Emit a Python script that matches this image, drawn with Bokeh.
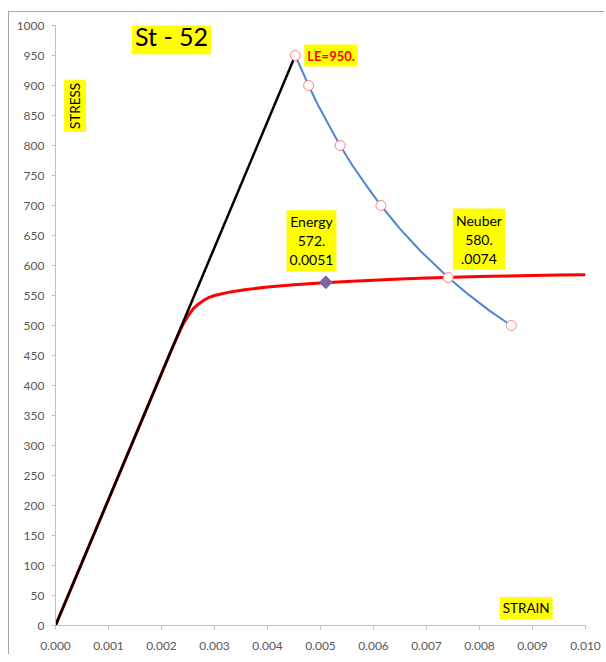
import math
from bokeh.plotting import figure
from bokeh.models import Range1d, FixedTicker, Label, PrintfTickFormatter
from bokeh.embed import file_html
from bokeh.resources import INLINE

# ---------------- data ----------------
x_ticks = [0.000, 0.001, 0.002, 0.003, 0.004, 0.005, 0.006, 0.007, 0.008, 0.009, 0.010]
y_ticks = [0, 50, 100, 150, 200, 250, 300, 350, 400, 450, 500,
           550, 600, 650, 700, 750, 800, 850, 900, 950, 1000]

# linear-elastic line
elastic_strain = [0.0, 0.004524]
elastic_stress = [0, 950]

# cyclic stress-strain curve (red)
curve_strain = [0.0, 0.0022, 0.0024, 0.0025, 0.0026, 0.0027, 0.0028, 0.0029, 0.0030,
                0.0033, 0.0036, 0.0040, 0.0045, 0.0050, 0.0055, 0.0060, 0.0065,
                0.0070, 0.0075, 0.0080, 0.0085, 0.0090, 0.0095, 0.0100]
curve_stress = [0, 462, 501, 516, 528, 536, 542, 547, 550,
                556, 560, 564, 568, 571, 573.5, 575.5, 577.5,
                579, 580.5, 581.5, 582.5, 583.5, 584, 584.5]

# Neuber hyperbola (blue)
neuber_strain = [0.004524, 0.00465, 0.004776, 0.00495, 0.0052, 0.00537, 0.0056, 0.0059,
                 0.00614, 0.0065, 0.0069, 0.00741, 0.0078, 0.0082, 0.0086]
neuber_stress = [950, 925, 900, 868, 827, 800, 767, 729,
                 700, 661, 623, 580, 551, 524, 500]

# Neuber marker points
point_strain = [0.004524, 0.004776, 0.00537, 0.00614, 0.00741, 0.0086]
point_stress = [950, 900, 800, 700, 580, 500]

# Energy method point
energy_strain = [0.0051]
energy_stress = [572]

# texts
title_text = "St - 52"
y_label_text = "STRESS"
x_label_text = "STRAIN"
le_text = "LE=950."
energy_text = "Energy\n572.\n0.0051"
neuber_text = "Neuber\n580.\n.0074"

FONT = "Lato"
TICK_COLOR = "#595959"
AXIS_COLOR = "#BFBFBF"
YELLOW = "#FFFF00"

p = figure(width=596, height=643,
           x_range=Range1d(0, 0.010), y_range=Range1d(0, 1000),
           output_backend="svg", toolbar_location=None,
           min_border_left=46, min_border_right=20,
           min_border_top=13, min_border_bottom=30)
p.styles = {"margin-left": "8px", "margin-top": "11px",
            "border-left": "1px solid #A6A6A6", "border-top": "1px solid #A6A6A6"}
p.outline_line_color = None
p.xgrid.visible = False
p.ygrid.visible = False

p.xaxis.ticker = FixedTicker(ticks=x_ticks)
p.xaxis.formatter = PrintfTickFormatter(format="%.3f")
p.yaxis.ticker = FixedTicker(ticks=y_ticks)
for ax in (p.xaxis, p.yaxis):
    ax.axis_line_color = AXIS_COLOR
    ax.major_tick_line_color = AXIS_COLOR
    ax.minor_tick_line_color = None
    ax.major_tick_in = 0
    ax.major_tick_out = 4
    ax.major_label_text_font = FONT
    ax.major_label_text_font_size = "12px"
    ax.major_label_text_color = TICK_COLOR
p.xaxis.major_label_standoff = 12
p.yaxis.major_label_standoff = 7

# curves
p.line(curve_strain, curve_stress, line_color="#FF0000", line_width=3)
p.line(elastic_strain, elastic_stress, line_color="#000000", line_width=2.5)
p.line(neuber_strain, neuber_stress, line_color="#4F86D0", line_width=2)
p.scatter(point_strain, point_stress, marker="circle", size=10,
          fill_color="white", line_color="#FF8080", line_width=1)
p.scatter(energy_strain, energy_stress, marker="square", size=9, angle=math.pi / 4,
          fill_color="#8064A2", line_color="#8064A2")

# annotations
def add_label(x, y, text, size, color="black", bold=False, angle=0.0, pad=3, lh=1.2):
    lab = Label(x=x, y=y, text=text, text_font=FONT, text_font_size=size,
                text_color=color, text_font_style="bold" if bold else "normal",
                text_align="center", text_baseline="middle", angle=angle,
                background_fill_color=YELLOW, border_line_color=None,
                padding=pad, text_line_height=lh)
    p.add_layout(lab)

add_label(0.00219, 982, title_text, "25px", pad=3)
add_label(0.00037, 866, y_label_text, "13.5px", angle=math.pi / 2, pad=3)
add_label(0.00520, 950, le_text, "13px", color="#FF0000", bold=True, pad=3)
add_label(0.00483, 641, energy_text, "14px", pad=3, lh=1.12)
add_label(0.00799, 644, neuber_text, "14px", pad=3, lh=1.12)
add_label(0.00888, 29, x_label_text, "13.5px", pad=3)

open("out.html", "w").write(file_html(p, INLINE))
